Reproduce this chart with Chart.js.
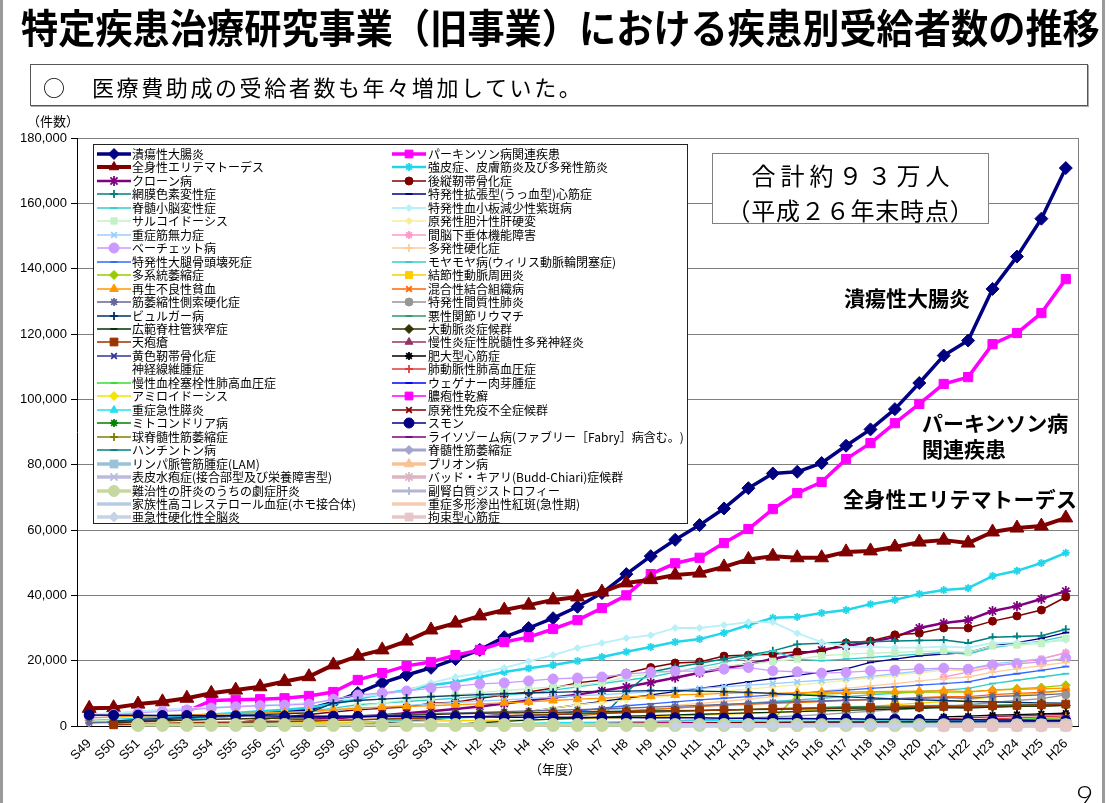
<!DOCTYPE html>
<html lang="ja"><head><meta charset="utf-8"><title>特定疾患治療研究事業</title>
<script src="https://cdn.jsdelivr.net/npm/chart.js@4.4.1/dist/chart.umd.min.js"></script>
<style>
html,body{margin:0;padding:0;background:#fff;}
#wrap{position:relative;width:1109px;height:803px;overflow:hidden;background:#fff;font-family:"Noto Sans CJK JP","Noto Sans",sans-serif;}
#c{position:absolute;left:0;top:0;}
.t{position:absolute;white-space:nowrap;color:#000;line-height:1;}
#title{left:21px;top:6px;font-size:40px;font-weight:bold;transform:scaleX(0.93);transform-origin:0 0;}
#sub{position:absolute;left:30px;top:64px;width:1056px;height:40px;border:1px solid #555;box-shadow:1px 1px 0 #aaa;background:#fff;}
#subMark{left:43px;top:75px;font-size:22px;}
#subText{left:92px;top:75px;font-size:22px;letter-spacing:2.6px;}
#unit{left:27px;top:114px;font-size:13px;}
#yearUnit{left:529px;top:762px;font-size:13px;}
#total{position:absolute;left:712px;top:153px;width:275px;height:69px;border:1px solid #808080;background:#fff;}
.tl{position:absolute;left:712px;width:277px;text-align:center;font-size:24px;line-height:1;white-space:nowrap;}
#tot1{top:163px;letter-spacing:5px;text-indent:5px;}
#tot2{top:198px;letter-spacing:0.8px;}
.lab{font-size:21px;font-weight:bold;}
#page{left:1076px;top:780px;font-size:30px;font-family:Lato,"Liberation Sans",sans-serif;font-weight:300;}
.edge{position:absolute;top:0;width:3px;height:803px;background:#9a9a9a;}
</style></head><body>
<div id="wrap">
<canvas id="c" width="1109" height="803"></canvas>
<div class="t" id="title">特定疾患治療研究事業（旧事業）における疾患別受給者数の推移</div>
<div id="sub"></div>
<div class="t" id="subMark">○</div>
<div class="t" id="subText">医療費助成の受給者数も年々増加していた。</div>
<div class="t" id="unit">（件数）</div>
<div class="t" id="yearUnit">（年度）</div>
<div id="total"></div>
<div class="tl" id="tot1">合計約９３万人</div>
<div class="tl" id="tot2">（平成２６年末時点）</div>
<div class="t lab" style="left:844px;top:287px;">潰瘍性大腸炎</div>
<div class="t lab" style="left:922px;top:412px;">パーキンソン病</div>
<div class="t lab" style="left:922px;top:438px;">関連疾患</div>
<div class="t lab" style="left:843px;top:488px;letter-spacing:0.3px;">全身性エリテマトーデス</div>
<div class="t" id="page">9</div>
<div class="edge" style="left:0;"></div>
<div class="edge" style="left:1102px;"></div>
</div>
<script>
const n = null;
const years = ['S49','S50','S51','S52','S53','S54','S55','S56','S57','S58','S59','S60','S61','S62','S63',
 'H1','H2','H3','H4','H5','H6','H7','H8','H9','H10','H11','H12','H13','H14','H15','H16','H17','H18','H19','H20','H21','H22','H23','H24','H25','H26'];
const yTicks = [0,20000,40000,60000,80000,100000,120000,140000,160000,180000];

const uc = [n,1100,1600,2100,2600,3000,3400,3900,4400,5200,7200,10100,13200,15600,17800,
 20500,23300,27200,30000,33000,36500,40700,46500,52000,57000,61500,66600,72800,77300,77800,80500,85800,90800,97000,105000,113400,118000,133800,143700,155300,170800];
const pd = [n,n,n,n,4500,7800,8000,8200,8500,9200,10400,14100,16200,18400,19600,
 21700,23300,25700,27200,29700,32400,36100,40000,46500,49800,51500,56000,60300,66400,71300,74700,81700,86600,92700,98600,104700,106800,116900,120300,126400,136800];
const sle = [5400,5600,6700,7400,8500,10000,11000,12000,13600,15100,18700,21400,23300,26000,29400,
 31500,33700,35500,37000,38600,39500,41000,43800,44800,46200,46800,48700,51000,52000,51500,51500,53300,53600,54800,56300,56900,56000,59400,60600,61200,63700];
const ssc = [1500,1800,2200,2600,3000,3500,4000,4500,5000,5600,6800,8300,9800,11000,12500,
 13500,15000,16500,17700,18700,19900,21100,22700,24200,25700,26600,28500,30900,33100,33400,34600,35500,37300,38600,40400,41600,42200,45900,47500,49900,53000];
const crohn = [n,n,300,500,700,900,1100,1300,1600,1900,2300,2800,3300,3900,4500,
 5200,6000,6900,7800,8700,9600,10800,12000,13300,14800,16300,17600,19000,20500,22000,23300,24500,25700,27200,30000,31500,32400,35200,36700,38900,41300];
const opll = [n,n,n,n,n,n,1000,2000,2800,3500,4300,5000,5400,5800,7000,
 7300,8500,9500,10400,11600,13200,14100,16200,17900,19300,19600,21400,21700,22000,22700,22700,25400,26000,27900,28400,30000,30000,32100,33700,35500,39500];
const rp = [n,n,n,n,n,n,n,n,n,n,n,n,n,n,n,
 n,n,n,n,n,n,2800,10400,16500,18000,19200,20500,21700,23000,25000,25300,25700,25800,26000,26200,26300,25400,27200,27400,27600,29600];
const dcm = [n,n,n,n,n,n,n,n,n,n,n,500,1000,1500,2000,
 2500,3000,3600,4500,5500,6500,7500,8500,9500,10500,11500,12500,13500,14500,15500,16500,17500,19500,20500,21500,22000,22500,24500,25500,26800,28600];
const scd = [n,n,1000,1500,2000,2500,3000,3500,4000,4500,5500,6500,7000,7500,8000,
 8500,9000,9500,10000,11000,12000,13000,14000,15000,16500,18000,19500,21000,23000,20500,20000,20500,21000,21500,22000,22500,22000,24000,25000,26000,27500];
const itp = [3500,4000,4500,5000,5500,5800,6000,6300,6600,7000,7800,8800,9800,10800,13200,
 15000,16200,17800,19800,21700,23900,25400,26900,27800,30000,30000,30900,31800,31800,28400,25700,24200,24200,24000,24000,24300,24000,25400,25500,25600,26300];
const sarc = [1500,1800,2000,2300,2600,2900,3200,3500,3900,4300,5000,6000,7000,8000,8800,
 9500,10200,10800,11400,12000,12600,13200,15000,16000,16800,17500,18300,19000,19800,20500,21500,22000,22300,22500,22800,23000,22500,24500,24800,25200,26900];
const pbc = [n,n,n,n,n,n,n,n,n,n,n,n,n,n,n,
 n,2000,3500,4500,5500,6500,7200,8000,8700,9300,10000,10700,11300,12000,12600,13200,14000,14800,15500,16300,17000,17000,18500,19200,19800,20500];
const mg = [2500,2700,2900,3100,3300,3500,3700,3900,4100,4300,4800,5300,5800,6300,6800,
 7200,7600,8000,8400,8800,9200,9600,10000,10500,11000,11500,12000,12500,13000,13500,14000,14500,15200,16000,16800,17500,17500,19000,19800,20600,22300];
const hypo = [n,n,n,n,n,n,n,n,n,n,n,n,n,n,n,
 n,n,n,n,n,n,n,n,n,n,n,n,n,n,n,n,n,n,n,n,15000,16500,18000,19500,20500,22500];
const behcet = [3000,3500,4000,4500,4900,5500,5900,6200,6400,6700,8200,9500,10100,10700,11600,
 12200,12900,13200,13800,14400,14700,15000,15900,16500,16800,16800,17400,17900,16900,16600,16200,16400,16900,17100,17500,17700,17400,18700,19000,19600,20800];
const ms = [800,900,1000,1100,1200,1300,1400,1500,1600,1700,1900,2100,2300,2500,2700,
 2900,3100,3400,3700,4000,4400,4800,5300,5800,6300,6900,7500,8200,9000,9800,10600,11500,12300,13000,13800,14500,15000,16500,17500,18500,19500];
const onfh = [n,n,n,n,n,n,n,n,n,n,n,n,n,n,n,
 n,n,n,2000,3500,4500,5500,6200,6800,7400,8000,8500,9000,9500,10000,10500,11000,11500,12000,12500,13000,13500,15000,16000,17000,18200];
const moya = [n,n,n,n,n,n,n,n,300,600,900,1200,1500,1800,2100,
 2400,2700,3000,3300,3600,3900,4300,4700,5100,5500,6000,6500,7000,7500,8000,8500,9000,9500,10000,10500,11000,11500,13000,14000,15000,16000];
const msa = [n,n,n,n,n,n,n,n,n,n,n,n,n,n,n,
 n,n,n,n,n,n,n,n,n,n,n,n,n,2000,9500,9800,10000,10100,10200,10300,10400,10400,11000,11400,11800,12500];
const pn = [n,200,300,400,500,600,700,800,900,1000,1100,1200,1300,1400,1500,
 1600,1700,1800,1900,2000,2200,2400,2600,2800,3000,3300,3600,3900,4200,4500,5000,5500,6000,6500,7000,7500,8000,9000,9500,10000,10800];
const aa = [2500,2800,3000,3200,3400,3600,3800,4000,4200,4400,5000,5500,5800,6000,6200,
 6500,6800,7100,7400,7800,8200,8500,8900,9200,9500,9700,10000,10200,10000,10200,10300,10400,10500,10600,10700,10800,10500,11000,11200,11400,11600];
const mctd = [n,n,n,n,n,n,n,n,n,n,n,n,n,n,n,
 n,n,n,n,2000,3000,3800,4500,5000,5500,6000,6300,6600,6900,7200,7500,7800,8100,8400,8700,9000,9000,9600,10000,10300,10800];
const als = [1000,1200,1400,1600,1800,2000,2200,2400,2600,2800,3000,3200,3400,3600,3800,
 4000,4200,4400,4600,4800,5000,5200,5500,5800,6000,6300,6600,6900,7200,7500,7700,7900,8100,8300,8500,8700,8500,9000,9200,9500,9900];
const iip = [n,n,n,n,n,n,n,n,n,n,n,n,n,n,n,
 n,n,n,n,n,n,500,1000,1300,1600,1900,2200,2500,2800,3100,3500,4000,4500,5000,5500,6000,6500,7200,7800,8400,9500];
const buerger = [n,1500,2000,2300,2600,2900,3200,3500,3700,4000,7000,7800,8200,8600,9000,
 9300,9600,9900,10100,10300,10500,10600,10700,10800,10800,10700,10500,10300,10000,9500,9200,8900,8600,8300,8000,7800,7500,7400,7200,7100,7000];
const mra = [n,n,n,300,500,700,900,1100,1300,1500,1700,1900,2100,2300,2500,
 2700,2900,3100,3300,3500,3700,3900,4100,4300,4500,4700,4900,5100,5300,5500,5700,5900,6000,6100,6200,6300,6200,6400,6500,6600,6700];
const lss = [n,n,n,n,n,n,n,n,n,n,n,n,n,n,n,
 500,1000,1400,1800,2100,2400,2700,3000,3200,3400,3600,3800,4000,4200,4400,4600,4800,5000,5200,5400,5600,5500,5800,6000,6100,6300];
const takayasu = [n,1000,1300,1600,1800,2000,2200,2300,2400,2500,2700,2900,3100,3300,3500,
 3700,3900,4000,4100,4200,4300,4400,4500,4600,4700,4800,4900,5000,5100,5200,5300,5400,5500,5600,5700,5800,5700,5900,6000,6100,6300];
const pemph = [n,400,600,800,1000,1100,1200,1300,1400,1500,1700,1900,2100,2300,2500,
 2700,2900,3100,3300,3500,3700,3900,4100,4300,4500,4700,4900,5100,5300,5400,5500,5600,5700,5800,5900,6000,5900,6200,6300,6500,6700];
const cidp = [n,n,n,n,n,n,n,n,n,n,n,n,n,n,n,
 n,n,n,n,n,n,n,n,n,n,n,n,n,n,n,n,n,n,n,n,2200,2500,2800,3100,3300,3600];
const olf = [n,n,n,n,n,n,n,n,n,n,n,n,n,n,n,
 n,n,n,n,n,n,n,n,n,n,n,n,n,n,n,n,n,n,n,n,200,250,300,330,360,400];
const hcm = [n,n,n,n,n,n,n,n,n,n,n,n,n,n,n,
 n,n,n,n,n,n,n,n,n,n,n,n,n,n,n,n,n,n,n,n,2800,3000,3300,3500,3700,3900];
const nf = [n,n,n,n,n,n,n,n,n,n,n,n,n,n,n,
 n,n,n,n,n,n,n,n,n,500,700,900,1100,1300,1500,1800,2000,2200,2400,2600,2700,2700,2800,2900,3000,3100];
const pah = [n,n,n,n,n,n,n,n,n,n,n,n,n,n,n,
 n,n,n,n,n,n,n,n,n,300,400,500,600,700,800,900,1000,1100,1300,1500,1700,1900,2200,2500,2800,3100];
const cteph = [n,n,n,n,n,n,n,n,n,n,n,n,n,n,n,
 n,n,n,n,n,n,n,n,n,100,150,200,300,400,500,600,700,800,900,1100,1300,1500,1800,2000,2300,2600];
const wegener = [n,n,n,n,n,n,n,n,n,n,100,150,200,250,300,
 350,400,450,500,550,600,650,700,750,800,850,900,950,1000,1050,1100,1200,1300,1400,1500,1600,1650,1750,1850,1950,2100];
const amyloid = [n,n,n,n,n,100,150,200,250,300,350,400,450,500,550,
 600,650,700,750,800,850,900,950,1000,1050,1100,1150,1200,1250,1300,1350,1400,1450,1500,1600,1700,1750,1850,1950,2050,2200];
const psor = [n,n,n,n,n,n,n,n,n,n,n,n,n,n,200,
 300,400,500,600,700,800,850,900,950,1000,1050,1100,1150,1200,1250,1300,1350,1400,1450,1500,1550,1550,1650,1700,1750,1800];
const sap = [n,n,n,n,n,n,n,n,n,n,n,n,n,n,n,
 n,n,500,800,1000,1100,1200,1300,1400,1500,1600,1700,1800,1900,1900,1900,1900,1800,1800,1800,1800,1700,1800,1800,1800,1800];
const pid = [n,n,n,n,n,n,n,n,n,n,n,n,n,n,n,
 n,n,n,n,n,600,700,800,850,900,950,1000,1000,1050,1100,1150,1200,1200,1250,1300,1300,1300,1350,1400,1400,1450];
const mito = [n,n,n,n,n,n,n,n,n,n,n,n,n,n,n,
 n,n,n,n,n,n,n,n,n,n,n,n,n,n,n,n,n,n,n,n,600,800,900,1000,1100,1200];
const smon = [3400,3300,3300,3200,3200,3100,3100,3100,3000,3000,3000,2900,2900,2900,2800,
 2800,2800,2700,2700,2700,2600,2600,2600,2500,2500,2500,2400,2400,2300,2300,2200,2200,2100,2100,2000,1900,1900,1800,1800,1700,1700];
const sbma = [n,n,n,n,n,n,n,n,n,n,n,n,n,n,n,
 n,n,n,n,n,n,n,n,n,n,n,n,n,n,n,n,n,n,n,n,700,800,850,900,950,1000];
const lyso = [n,n,n,n,n,n,n,n,n,n,n,n,n,n,n,
 n,n,n,n,n,n,n,n,n,n,100,150,200,250,300,350,400,450,500,550,700,800,900,1000,1100,1200];
const huntington = [n,n,n,n,n,n,n,100,150,200,250,300,350,400,450,
 480,500,520,540,560,580,600,620,640,660,680,700,720,740,760,780,800,800,820,840,850,850,870,880,890,900];
const sma = [n,n,n,n,n,n,n,n,n,n,n,n,n,n,n,
 n,n,n,n,n,n,n,n,n,n,n,n,n,n,n,n,n,n,n,n,500,600,650,700,750,800];
const lam = [n,n,n,n,n,n,n,n,n,n,n,n,n,n,n,
 n,n,n,n,n,n,n,n,n,n,n,n,n,n,n,n,n,n,n,n,300,400,450,500,550,600];
const prion = [n,n,n,n,n,n,n,n,n,n,n,n,n,n,n,
 n,n,n,n,n,n,n,n,100,120,140,160,180,200,220,250,280,300,330,360,380,400,420,450,480,500];
const eb = [n,n,n,n,n,n,n,n,n,n,n,n,n,150,200,
 220,240,250,260,270,280,290,300,300,310,310,320,320,330,330,330,340,340,340,340,340,340,340,340,340,340];
const budd = [n,n,n,n,n,n,n,n,n,n,n,n,n,n,n,
 n,n,n,n,n,n,n,n,n,100,120,140,160,180,200,210,220,230,240,250,250,250,260,260,260,270];
const fhep = [n,n,300,320,310,330,300,290,310,320,300,290,310,300,290,
 300,310,290,300,280,290,300,310,290,280,300,290,280,270,280,260,270,260,250,260,250,240,250,240,230,240];
const ald = [n,n,n,n,n,n,n,n,n,n,n,n,n,n,n,
 n,n,n,n,n,n,n,n,n,n,n,50,80,100,110,120,130,140,150,160,170,180,180,190,190,200];
const famhc = [n,n,n,n,n,n,n,n,n,n,n,n,n,n,n,
 n,n,n,n,n,n,n,n,n,n,n,n,n,n,n,n,n,n,n,n,130,140,140,150,150,160];
const sjs = [n,n,n,n,n,n,n,n,n,n,n,n,n,n,n,
 n,n,n,n,n,n,n,n,n,n,n,n,n,n,n,n,n,n,n,n,60,70,80,80,90,90];
const sspe = [n,n,n,n,n,n,n,n,n,n,n,n,n,n,n,
 n,n,n,n,n,n,n,n,n,80,85,90,90,95,95,100,100,100,100,100,100,95,95,95,90,90];
const rcm = [n,n,n,n,n,n,n,n,n,n,n,n,n,n,n,
 n,n,n,n,n,n,n,n,n,n,n,n,n,n,n,n,n,n,n,n,20,25,30,30,35,40];

// legend order (row-wise, two columns)
const series = [
 {name:'潰瘍性大腸炎', data:uc, color:'#000080', pt:'rectRot', r:6.5, w:3.5},
 {name:'パーキンソン病関連疾患', data:pd, color:'#FF00FF', pt:'rect', r:6.5, w:3.5},
 {name:'全身性エリテマトーデス', data:sle, color:'#800000', pt:'triangle', r:8, w:4},
 {name:'強皮症、皮膚筋炎及び多発性筋炎', data:ssc, color:'#22D6EA', pt:'star', r:4, w:2.5},
 {name:'クローン病', data:crohn, color:'#800080', pt:'star', r:5, w:2.5},
 {name:'後縦靭帯骨化症', data:opll, color:'#800000', pt:'circle', r:4, w:1.5},
 {name:'網膜色素変性症', data:rp, color:'#008080', pt:'cross', r:4, w:1.5},
 {name:'特発性拡張型(うっ血型)心筋症', data:dcm, color:'#000080', pt:'line', r:3.5, w:1.3},
 {name:'脊髄小脳変性症', data:scd, color:'#33CCCC', pt:'line', r:3.5, w:1.3},
 {name:'特発性血小板減少性紫斑病', data:itp, color:'#B8F0F8', pt:'rectRot', r:3.5, w:1.8},
 {name:'サルコイドーシス', data:sarc, color:'#C4F2C4', pt:'rect', r:4.5, w:1.3},
 {name:'原発性胆汁性肝硬変', data:pbc, color:'#F6EE9A', pt:'rectRot', r:3.5, w:1.3},
 {name:'重症筋無力症', data:mg, color:'#99CCFF', pt:'crossRot', r:4, w:1.3},
 {name:'間脳下垂体機能障害', data:hypo, color:'#FF99CC', pt:'star', r:4, w:1.3},
 {name:'ベーチェット病', data:behcet, color:'#CC99FF', pt:'circle', r:5, w:1.3},
 {name:'多発性硬化症', data:ms, color:'#FFCC99', pt:'cross', r:4, w:1.3},
 {name:'特発性大腿骨頭壊死症', data:onfh, color:'#3366FF', pt:'line', r:3.5, w:1.3},
 {name:'モヤモヤ病(ウィリス動脈輪閉塞症)', data:moya, color:'#33CCCC', pt:'line', r:3.5, w:1.3},
 {name:'多系統萎縮症', data:msa, color:'#99CC00', pt:'rectRot', r:4.5, w:1.3},
 {name:'結節性動脈周囲炎', data:pn, color:'#FFCC00', pt:'rect', r:5, w:1.3},
 {name:'再生不良性貧血', data:aa, color:'#FF9900', pt:'triangle', r:5, w:1.3},
 {name:'混合性結合組織病', data:mctd, color:'#FF6600', pt:'crossRot', r:4, w:1.3},
 {name:'筋萎縮性側索硬化症', data:als, color:'#666699', pt:'star', r:4, w:1.3},
 {name:'特発性間質性肺炎', data:iip, color:'#969696', pt:'circle', r:4, w:1.3},
 {name:'ビュルガー病', data:buerger, color:'#003366', pt:'cross', r:4, w:1.3},
 {name:'悪性関節リウマチ', data:mra, color:'#339966', pt:'line', r:3.5, w:1.3},
 {name:'広範脊柱管狭窄症', data:lss, color:'#003300', pt:'line', r:3.5, w:1.3},
 {name:'大動脈炎症候群', data:takayasu, color:'#333300', pt:'rectRot', r:4.5, w:1.3},
 {name:'天疱瘡', data:pemph, color:'#993300', pt:'rect', r:5.5, w:1.3},
 {name:'慢性炎症性脱髄性多発神経炎', data:cidp, color:'#993366', pt:'triangle', r:4.5, w:1.3},
 {name:'黄色靭帯骨化症', data:olf, color:'#333399', pt:'crossRot', r:4, w:1.3},
 {name:'肥大型心筋症', data:hcm, color:'#000000', pt:'star', r:4, w:1.3},
 {name:'神経線維腫症', data:nf, color:'#FFFFFF', pt:false, r:0, w:0, hide:true},
 {name:'肺動脈性肺高血圧症', data:pah, color:'#E03C3C', pt:'cross', r:4, w:1.3},
 {name:'慢性血栓塞栓性肺高血圧症', data:cteph, color:'#33DD33', pt:'line', r:3.5, w:1.3},
 {name:'ウェゲナー肉芽腫症', data:wegener, color:'#0000FF', pt:'line', r:3.5, w:1.3},
 {name:'アミロイドーシス', data:amyloid, color:'#F2E600', pt:'rectRot', r:4.5, w:1.3},
 {name:'膿疱性乾癬', data:psor, color:'#FF00FF', pt:'rect', r:5.5, w:1.3},
 {name:'重症急性膵炎', data:sap, color:'#22E0F0', pt:'triangle', r:4.5, w:1.3},
 {name:'原発性免疫不全症候群', data:pid, color:'#800000', pt:'crossRot', r:4, w:1.3},
 {name:'ミトコンドリア病', data:mito, color:'#008000', pt:'star', r:4, w:1.3},
 {name:'スモン', data:smon, color:'#000080', pt:'circle', r:5, w:1.5},
 {name:'球脊髄性筋萎縮症', data:sbma, color:'#808000', pt:'cross', r:4, w:1.3},
 {name:'ライソゾーム病(ファブリー［Fabry］病含む。)', data:lyso, color:'#800080', pt:'line', r:3.5, w:1.5},
 {name:'ハンチントン病', data:huntington, color:'#008080', pt:'line', r:3.5, w:1.3},
 {name:'脊髄性筋萎縮症', data:sma, color:'#A4A4CE', pt:'rectRot', r:4.5, w:3},
 {name:'リンパ脈管筋腫症(LAM)', data:lam, color:'#99C2D8', pt:'rect', r:6.5, w:3.5},
 {name:'プリオン病', data:prion, color:'#F8C294', pt:'triangle', r:5.5, w:3.5},
 {name:'表皮水疱症(接合部型及び栄養障害型)', data:eb, color:'#BBBBDD', pt:'crossRot', r:5, w:3.5},
 {name:'バッド・キアリ(Budd-Chiari)症候群', data:budd, color:'#DDB4C4', pt:'star', r:5, w:3.5},
 {name:'難治性の肝炎のうちの劇症肝炎', data:fhep, color:'#C6D8A0', pt:'circle', r:6.5, w:3.5},
 {name:'副腎白質ジストロフィー', data:ald, color:'#B4B4D4', pt:'cross', r:4, w:3},
 {name:'家族性高コレステロール血症(ホモ接合体)', data:famhc, color:'#B6CCE2', pt:false, r:0, w:3.5},
 {name:'重症多形滲出性紅斑(急性期)', data:sjs, color:'#F8CCB0', pt:false, r:0, w:3.5},
 {name:'亜急性硬化性全脳炎', data:sspe, color:'#C8D2E6', pt:'rectRot', r:5, w:3.5},
 {name:'拘束型心筋症', data:rcm, color:'#E6C6C6', pt:'rect', r:7, w:3.5}
];
series.forEach(s => { if (s.data.length !== years.length) throw new Error(s.name + ' length ' + s.data.length); });

const openStyles = ['cross','crossRot','star','line'];
const datasets = series.map((s, i) => ({
  label: s.name, data: s.data,
  borderColor: s.color, backgroundColor: s.color,
  pointBackgroundColor: s.color, pointBorderColor: s.color,
  pointStyle: s.pt, pointRadius: s.r, pointHoverRadius: s.r,
  pointBorderWidth: openStyles.includes(s.pt) ? 1.8 : 1,
  borderWidth: s.w, showLine: !s.hide, hidden: false,
  borderJoinStyle: 'round', tension: 0, spanGaps: false, clip: false,
  order: -i
}));

const legendBox = {
  id: 'legendBox',
  afterDatasetsDraw(chart) {
    const ctx = chart.ctx;
    ctx.save();
    ctx.fillStyle = '#fff';
    ctx.fillRect(93, 144, 594, 379);
    ctx.strokeStyle = '#222'; ctx.lineWidth = 1;
    ctx.strokeRect(93.5, 144.5, 594, 379);
    ctx.font = '12px "Noto Sans CJK JP"';
    ctx.textBaseline = 'middle'; ctx.textAlign = 'left';
    chart.data.datasets.forEach((ds, i) => {
      const col = i % 2, row = Math.floor(i / 2);
      const x1 = col ? 392 : 97, x2 = x1 + 34, tx = col ? 428 : 132;
      const cy = Math.round(154 + row * 13.46);
      if (ds.showLine !== false && ds.borderWidth > 0) {
        ctx.strokeStyle = ds.borderColor; ctx.lineWidth = Math.min(ds.borderWidth, 4);
        ctx.beginPath(); ctx.moveTo(x1, cy); ctx.lineTo(x2, cy); ctx.stroke();
      }
      if (ds.pointStyle && ds.pointRadius > 0) {
        ctx.fillStyle = ds.pointBackgroundColor; ctx.strokeStyle = ds.pointBorderColor;
        ctx.lineWidth = ds.pointBorderWidth;
        const opts = {pointStyle: ds.pointStyle, rotation: 0, radius: Math.min(ds.pointRadius, 5.5), borderWidth: ds.pointBorderWidth};
        if (Chart.helpers && Chart.helpers.drawPoint) Chart.helpers.drawPoint(ctx, opts, (x1 + x2) / 2, cy);
      }
      ctx.fillStyle = '#000';
      ctx.fillText(ds.label, tx, cy + 0.5);
    });
    ctx.restore();
  }
};
const frame = {
  id: 'frame',
  beforeDatasetsDraw(chart) {
    const {ctx, chartArea: a} = chart;
    ctx.save(); ctx.strokeStyle = '#808080'; ctx.lineWidth = 1;
    ctx.beginPath(); ctx.moveTo(Math.round(a.right) + 0.5, a.top); ctx.lineTo(Math.round(a.right) + 0.5, a.bottom); ctx.stroke();
    ctx.restore();
  }
};

Chart.defaults.font.family = '"Liberation Sans", Arial, sans-serif';
new Chart(document.getElementById('c'), {
  type: 'line',
  data: {labels: years, datasets},
  options: {
    responsive: false, animation: false, devicePixelRatio: 1,
    layout: {padding: {top: 138, right: 31, left: 0, bottom: 0}},
    plugins: {legend: {display: false}, tooltip: {enabled: false}, title: {display: false}},
    scales: {
      x: {
        offset: true,
        grid: {display: false},
        border: {display: true, color: '#000', width: 1},
        ticks: {autoSkip: false, minRotation: 45, maxRotation: 45, color: '#000', padding: 2, font: {size: 13}},
        afterFit(s) { s.height = 77; }
      },
      y: {
        min: 0, max: 180000,
        afterBuildTicks(s) { s.ticks = yTicks.map(v => ({value: v})); },
        ticks: {color: '#000', padding: 4, font: {size: 13}, callback: v => Number(v).toLocaleString('en-US')},
        grid: {color: '#808080', lineWidth: 1, tickLength: 6, tickColor: '#000', drawTicks: true},
        border: {display: true, color: '#000', width: 1},
        afterFit(s) { s.width = 77; }
      }
    }
  },
  plugins: [frame, legendBox]
});
</script>
</body></html>
